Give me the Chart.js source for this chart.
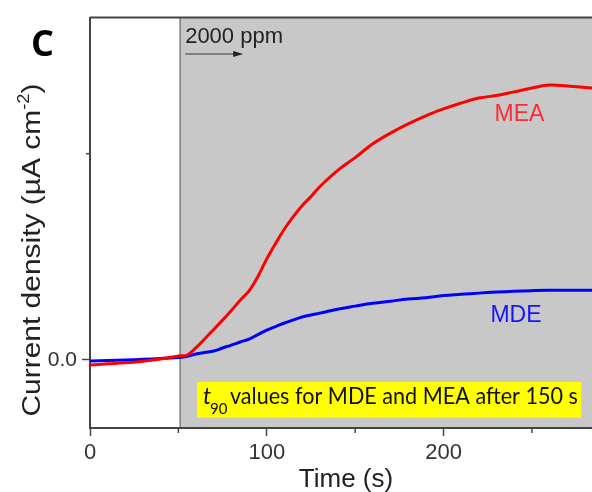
<!DOCTYPE html>
<html>
<head>
<meta charset="utf-8">
<script src="https://cdn.jsdelivr.net/npm/chart.js@4.4.0/dist/chart.umd.min.js"></script>
<style>
	body { margin: 0; background: #fff; }
	#wrap { width: 592px; height: 492px; }
</style>
</head>
<body>
<div id="wrap"><canvas id="myChart" width="592" height="492"></canvas></div>
<script>
// time axis (s) and current density traces
var time = [0,10,20,30,40,45,50,55,60,65,70,75,80,85,90,95,100,105,110,115,120,125,130,140,150,160,170,180,190,200,210,220,230,240,250,260,270,284];
var mea  = [-0.024,-0.019,-0.014,-0.006,0.005,0.012,0.019,0.024,0.06,0.103,0.148,0.193,0.24,0.29,0.335,0.405,0.49,0.565,0.635,0.695,0.748,0.792,0.84,0.918,0.981,1.048,1.1,1.145,1.184,1.217,1.246,1.27,1.282,1.3,1.319,1.333,1.328,1.319];
var mde  = [-0.005,-0.003,0,0.003,0.007,0.009,0.012,0.018,0.029,0.036,0.043,0.058,0.072,0.087,0.101,0.123,0.145,0.162,0.179,0.194,0.208,0.218,0.227,0.246,0.261,0.275,0.285,0.295,0.302,0.312,0.318,0.324,0.329,0.333,0.336,0.338,0.338,0.338];
var xTicks = [0,50,100,150,200,250];
var yTicks = [0,1];
var gasOn = 51; // 2000 ppm switched on

function pts(ys){ return time.map(function(t,i){ return {x:t, y:ys[i]}; }); }

var decor = {
	id: 'decor',
	beforeDraw: function(chart){
		var ctx = chart.ctx, a = chart.chartArea, x = chart.scales.x;
		var xs = x.getPixelForValue(gasOn);
		ctx.save();
		ctx.fillStyle = '#c8c8c8';
		ctx.fillRect(xs, a.top, a.right - xs, a.bottom - a.top);
		ctx.strokeStyle = '#7c7c7c';
		ctx.lineWidth = 1.5;
		ctx.beginPath(); ctx.moveTo(xs, a.top); ctx.lineTo(xs, a.bottom); ctx.stroke();
		ctx.strokeStyle = '#444';
		ctx.lineWidth = 2;
		ctx.beginPath(); ctx.moveTo(a.left, a.top); ctx.lineTo(a.right, a.top); ctx.stroke();
		ctx.restore();
	},
	afterDraw: function(chart){
		var ctx = chart.ctx, a = chart.chartArea, x = chart.scales.x, y = chart.scales.y;
		ctx.save();
		// minor ticks
		ctx.strokeStyle = '#444'; ctx.lineWidth = 1.5;
		[50,150,250].forEach(function(v){
			var px = x.getPixelForValue(v);
			ctx.beginPath(); ctx.moveTo(px, a.bottom); ctx.lineTo(px, a.bottom + 5); ctx.stroke();
		});
		var py1 = y.getPixelForValue(1);
		ctx.beginPath(); ctx.moveTo(a.left, py1); ctx.lineTo(a.left - 4, py1); ctx.stroke();

		// panel letter
		ctx.fillStyle = '#000';
		ctx.font = 'bold 36px "Open Sans"';
		ctx.textBaseline = 'alphabetic';
		ctx.fillText('C', 31, 56);

		// 2000 ppm with arrow
		var xs = x.getPixelForValue(gasOn);
		ctx.fillStyle = '#222';
		ctx.font = '22px "Liberation Sans"';
		ctx.fillText('2000 ppm', xs + 5, 43);
		ctx.strokeStyle = '#333'; ctx.lineWidth = 1;
		ctx.beginPath(); ctx.moveTo(xs + 5, 54); ctx.lineTo(xs + 56, 54); ctx.stroke();
		ctx.fillStyle = '#222';
		ctx.beginPath(); ctx.moveTo(xs + 63, 54); ctx.lineTo(xs + 53, 51); ctx.lineTo(xs + 53, 57); ctx.closePath(); ctx.fill();

		// series labels
		ctx.font = '23px "Liberation Sans"';
		ctx.textAlign = 'center';
		ctx.textBaseline = 'middle';
		ctx.fillStyle = '#ff2a36';
		ctx.fillText('MEA', x.getPixelForValue(243), y.getPixelForValue(1.188));
		ctx.fillStyle = '#1414ff';
		ctx.fillText('MDE', x.getPixelForValue(241), y.getPixelForValue(0.217));

		// yellow note
		var bx = x.getPixelForValue(60.5), bx2 = x.getPixelForValue(278);
		var by = y.getPixelForValue(-0.106), by2 = y.getPixelForValue(-0.28);
		ctx.fillStyle = '#ffff00';
		ctx.fillRect(bx, by, bx2 - bx, by2 - by);
		ctx.fillStyle = '#111';
		ctx.textAlign = 'left';
		ctx.textBaseline = 'alphabetic';
		ctx.font = 'italic 23px Lato';
		ctx.fillText('t', bx + 6, by + 22);
		ctx.font = '15px Lato';
		ctx.fillText('90', bx + 13, by + 32);
		ctx.font = '23px Lato';
		ctx.fillText('values for MDE and MEA after 150 s', bx + 33, by + 22, 348);

		// axis titles
		ctx.fillStyle = '#222';
		ctx.font = '26px "Liberation Sans"';
		ctx.textAlign = 'center';
		ctx.fillText('Time (s)', 346, 487);

		ctx.translate(40, 250);
		ctx.rotate(-Math.PI / 2);
		ctx.textAlign = 'left';
		var main = 'Current density (\u00b5A cm', sup = '-2', end = ')';
		ctx.font = '26px "Liberation Sans"';
		var w1 = ctx.measureText(main).width, w3 = ctx.measureText(end).width;
		ctx.font = '16px "Liberation Sans"';
		var w2 = ctx.measureText(sup).width;
		var total = w1 + w2 + w3;
		ctx.scale(333 / total, 1);
		var sx = -total / 2;
		ctx.font = '26px "Liberation Sans"';
		ctx.fillText(main, sx, 0);
		ctx.font = '16px "Liberation Sans"';
		ctx.fillText(sup, sx + w1, -11);
		ctx.font = '26px "Liberation Sans"';
		ctx.fillText(end, sx + w1 + w2, 0);
		ctx.restore();
	}
};

var ctx = document.getElementById('myChart');
var myChart = new Chart(ctx, {
	type: 'line',
	data: {
		datasets: [
			{ label: 'MEA', data: pts(mea), borderColor: '#ff0000', borderWidth: 3, pointRadius: 0, tension: 0.4, fill: false },
			{ label: 'MDE', data: pts(mde), borderColor: '#0000ff', borderWidth: 3, pointRadius: 0, tension: 0.4, fill: false }
		]
	},
	options: {
		responsive: false,
		animation: false,
		layout: { padding: { top: 16, left: 0, right: 0, bottom: 0 } },
		plugins: { legend: { display: false }, tooltip: { enabled: false } },
		scales: {
			x: {
				type: 'linear', min: 0, max: 284,
				afterFit: function(s){ s.height = 64; },
				afterBuildTicks: function(s){ s.ticks = xTicks.map(function(v){ return {value: v}; }); },
				grid: {
					drawOnChartArea: false, tickLength: 8, tickWidth: 1.5,
					tickColor: function(c){ return c.tick && c.tick.value % 100 === 0 ? '#444' : 'rgba(0,0,0,0)'; }
				},
				border: { color: '#444', width: 2 },
				ticks: {
					autoSkip: false, maxRotation: 0, padding: 4, color: '#333',
					font: { family: 'Liberation Sans', size: 22 },
					callback: function(v){ return v % 100 === 0 ? String(v) : ''; }
				}
			},
			y: {
				type: 'linear', min: -0.33, max: 1.66,
				afterFit: function(s){ s.width = 90; },
				afterBuildTicks: function(s){ s.ticks = yTicks.map(function(v){ return {value: v}; }); },
				grid: {
					drawOnChartArea: false, tickLength: 8, tickWidth: 1.5,
					tickColor: function(c){ return c.tick && c.tick.value === 0 ? '#444' : 'rgba(0,0,0,0)'; }
				},
				border: { color: '#444', width: 2 },
				ticks: {
					padding: 5, color: '#333',
					font: { family: 'Liberation Sans', size: 21 },
					callback: function(v){ return v === 0 ? '0.0' : ''; }
				}
			}
		}
	},
	plugins: [decor]
});
</script>
</body>
</html>
